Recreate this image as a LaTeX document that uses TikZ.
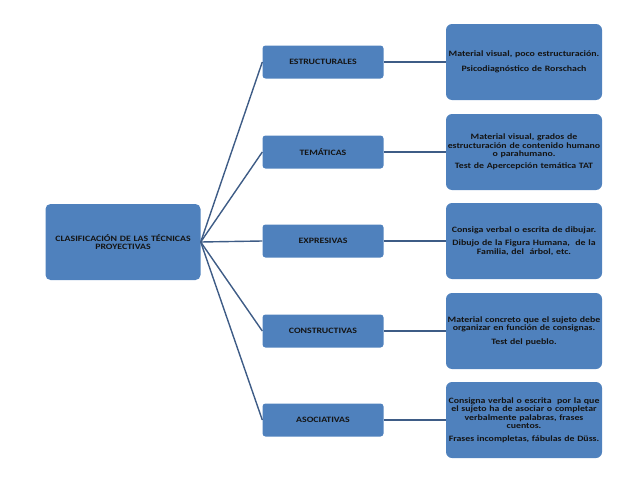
\documentclass[tikz,border=0pt]{standalone}
\usepackage{fontspec}
\setmainfont{Carlito}[FakeStretch=1.2]
\usepackage{xcolor}
\usepackage{tikz}
\usetikzlibrary{calc}
\definecolor{boxblue}{HTML}{4F81BD}
\definecolor{lineblue}{HTML}{3E5C86}
\definecolor{txt}{HTML}{141414}

\begin{document}
\begin{tikzpicture}[x=1pt,y=-1pt,
  box/.style={fill=boxblue,draw=none,text=txt,font=\bfseries\fontsize{8.2}{8.4}\selectfont,align=center,inner sep=1pt},
  rootbox/.style={box,rounded corners=5pt,minimum width=155pt,minimum height=76pt,text width=150pt},
  midbox/.style={box,rounded corners=3pt,minimum width=121pt,minimum height=33pt,text width=118pt},
  infobox/.style={box,rounded corners=6pt,minimum width=156pt,minimum height=76pt,text width=154pt},
  link/.style={draw=lineblue,line width=1.4pt}]
\useasboundingbox (0,0) rectangle (638,479);

\node[rootbox] (clas) at (123,242) {CLASIFICACIÓN DE LAS TÉCNICAS\\PROYECTIVAS};

\node[midbox] (estr) at (323,62) {ESTRUCTURALES};
\node[midbox] (tema) at (323,152) {TEMÁTICAS};
\node[midbox] (expr) at (323,241) {EXPRESIVAS};
\node[midbox] (cons) at (323,331) {CONSTRUCTIVAS};
\node[midbox] (asoc) at (323,420) {ASOCIATIVAS};

\node[infobox] (estrInfo) at (524,62) {Material visual, poco estructuración.\\[6pt]Psicodiagnóstico de Rorschach};
\node[infobox] (temaInfo) at (524,152) {Material visual, grados de\\estructuración de contenido humano\\o parahumano.\\[4pt]Test de Apercepción temática TAT};
\node[infobox] (exprInfo) at (524,241) {Consiga verbal o escrita de dibujar.\\[5pt]Dibujo de la Figura Humana,\ \ de la\\Familia, del\ \ árbol, etc.};
\node[infobox] (consInfo) at (524,331) {Material concreto que el sujeto debe\\organizar en función de consignas.\\[5pt]Test del pueblo.};
\node[infobox] (asocInfo) at (524,420) {Consigna verbal o escrita\ \ por la que\\el sujeto ha de asociar o completar\\verbalmente palabras, frases\\cuentos.\\[4pt]Frases incompletas, fábulas de Düss.};

% ramas
\foreach \m in {estr,tema,expr,cons,asoc}{
  \draw[link] (clas.east) -- (\m.west);
  \draw[link] (\m.east) -- (\m Info.west);
}

\end{tikzpicture}
\end{document}
